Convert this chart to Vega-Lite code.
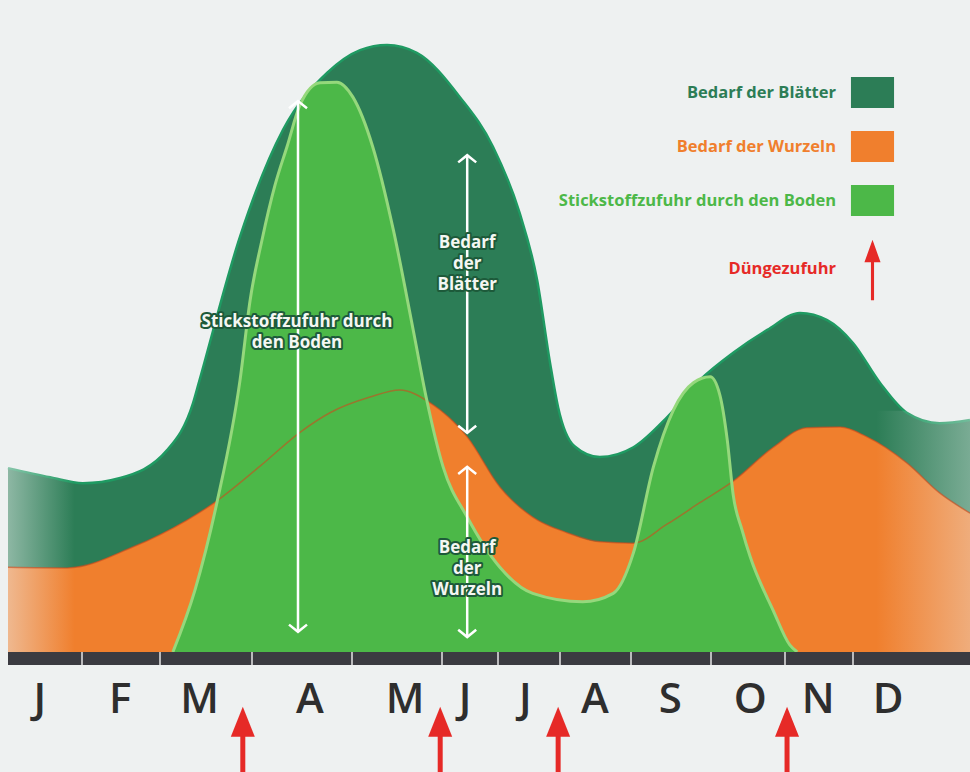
{
  "$schema": "https://vega.github.io/schema/vega-lite/v6.json",
  "width": 970,
  "height": 772,
  "autosize": {"type": "none"},
  "padding": 0,
  "background": "#eef1f1",
  "config": {"view": {"stroke": null}},
  "datasets": {
    "total": [
      {"s": "Bedarf der Blätter", "m": 0, "n": 28.2}, {"s": "Bedarf der Blätter", "m": 0.57, "n": 26.8},
      {"s": "Bedarf der Blätter", "m": 1.01, "n": 25.9}, {"s": "Bedarf der Blätter", "m": 1.49, "n": 26.7},
      {"s": "Bedarf der Blätter", "m": 2.08, "n": 31.0}, {"s": "Bedarf der Blätter", "m": 2.36, "n": 38.2},
      {"s": "Bedarf der Blätter", "m": 2.43, "n": 41.7}, {"s": "Bedarf der Blätter", "m": 2.87, "n": 63.7},
      {"s": "Bedarf der Blätter", "m": 3.31, "n": 80.1}, {"s": "Bedarf der Blätter", "m": 3.75, "n": 88.8},
      {"s": "Bedarf der Blätter", "m": 4.09, "n": 92.3}, {"s": "Bedarf der Blätter", "m": 4.39, "n": 93.1},
      {"s": "Bedarf der Blätter", "m": 4.72, "n": 91.9}, {"s": "Bedarf der Blätter", "m": 5.32, "n": 85.1},
      {"s": "Bedarf der Blätter", "m": 5.91, "n": 77.5}, {"s": "Bedarf der Blätter", "m": 6.35, "n": 67.3},
      {"s": "Bedarf der Blätter", "m": 6.63, "n": 57.1}, {"s": "Bedarf der Blätter", "m": 6.84, "n": 44.3},
      {"s": "Bedarf der Blätter", "m": 6.97, "n": 37.5}, {"s": "Bedarf der Blätter", "m": 7.2, "n": 31.6},
      {"s": "Bedarf der Blätter", "m": 7.56, "n": 29.9}, {"s": "Bedarf der Blätter", "m": 8.03, "n": 31.4},
      {"s": "Bedarf der Blätter", "m": 8.45, "n": 36.0}, {"s": "Bedarf der Blätter", "m": 8.86, "n": 41.7},
      {"s": "Bedarf der Blätter", "m": 9.30, "n": 45.9}, {"s": "Bedarf der Blätter", "m": 9.76, "n": 49.4},
      {"s": "Bedarf der Blätter", "m": 10.22, "n": 52.0}, {"s": "Bedarf der Blätter", "m": 10.62, "n": 50.9},
      {"s": "Bedarf der Blätter", "m": 11.0, "n": 47.4}, {"s": "Bedarf der Blätter", "m": 11.23, "n": 41.3},
      {"s": "Bedarf der Blätter", "m": 11.46, "n": 36.7}, {"s": "Bedarf der Blätter", "m": 11.74, "n": 35.1},
      {"s": "Bedarf der Blätter", "m": 12, "n": 35.6}
    ],
    "roots": [
      {"s": "Bedarf der Wurzeln", "m": 0, "n": 13.0}, {"s": "Bedarf der Wurzeln", "m": 0.80, "n": 12.9},
      {"s": "Bedarf der Wurzeln", "m": 1.65, "n": 16.1}, {"s": "Bedarf der Wurzeln", "m": 2.29, "n": 20.2},
      {"s": "Bedarf der Wurzeln", "m": 2.60, "n": 23.0}, {"s": "Bedarf der Wurzeln", "m": 3.08, "n": 28.5},
      {"s": "Bedarf der Wurzeln", "m": 3.48, "n": 33.7}, {"s": "Bedarf der Wurzeln", "m": 3.78, "n": 36.7},
      {"s": "Bedarf der Wurzeln", "m": 4.20, "n": 39.1}, {"s": "Bedarf der Wurzeln", "m": 4.53, "n": 40.2},
      {"s": "Bedarf der Wurzeln", "m": 4.87, "n": 38.2}, {"s": "Bedarf der Wurzeln", "m": 5.45, "n": 33.0},
      {"s": "Bedarf der Wurzeln", "m": 6.03, "n": 25.3}, {"s": "Bedarf der Wurzeln", "m": 6.56, "n": 20.7},
      {"s": "Bedarf der Wurzeln", "m": 7.10, "n": 18.3}, {"s": "Bedarf der Wurzeln", "m": 7.56, "n": 16.9},
      {"s": "Bedarf der Wurzeln", "m": 8.03, "n": 16.7}, {"s": "Bedarf der Wurzeln", "m": 8.45, "n": 19.6},
      {"s": "Bedarf der Wurzeln", "m": 8.86, "n": 22.9}, {"s": "Bedarf der Wurzeln", "m": 9.30, "n": 26.2},
      {"s": "Bedarf der Wurzeln", "m": 9.84, "n": 31.4}, {"s": "Bedarf der Wurzeln", "m": 10.32, "n": 34.4},
      {"s": "Bedarf der Wurzeln", "m": 10.81, "n": 34.5}, {"s": "Bedarf der Wurzeln", "m": 11.12, "n": 33.0},
      {"s": "Bedarf der Wurzeln", "m": 11.46, "n": 29.0}, {"s": "Bedarf der Wurzeln", "m": 11.74, "n": 24.4},
      {"s": "Bedarf der Wurzeln", "m": 12, "n": 21.3}
    ],
    "soil": [
      {"s": "Stickstoffzufuhr durch den Boden", "m": 2.14, "n": 0}, {"s": "Stickstoffzufuhr durch den Boden", "m": 2.38, "n": 9.5},
      {"s": "Stickstoffzufuhr durch den Boden", "m": 2.62, "n": 23.0}, {"s": "Stickstoffzufuhr durch den Boden", "m": 2.87, "n": 41.7},
      {"s": "Stickstoffzufuhr durch den Boden", "m": 2.98, "n": 54.0}, {"s": "Stickstoffzufuhr durch den Boden", "m": 3.10, "n": 63.2},
      {"s": "Stickstoffzufuhr durch den Boden", "m": 3.23, "n": 71.6}, {"s": "Stickstoffzufuhr durch den Boden", "m": 3.35, "n": 77.5},
      {"s": "Stickstoffzufuhr durch den Boden", "m": 3.48, "n": 83.9}, {"s": "Stickstoffzufuhr durch den Boden", "m": 3.68, "n": 87.3},
      {"s": "Stickstoffzufuhr durch den Boden", "m": 3.85, "n": 87.4}, {"s": "Stickstoffzufuhr durch den Boden", "m": 4.01, "n": 85.1},
      {"s": "Stickstoffzufuhr durch den Boden", "m": 4.23, "n": 77.5}, {"s": "Stickstoffzufuhr durch den Boden", "m": 4.46, "n": 64.7},
      {"s": "Stickstoffzufuhr durch den Boden", "m": 4.68, "n": 49.4}, {"s": "Stickstoffzufuhr durch den Boden", "m": 4.83, "n": 38.7},
      {"s": "Stickstoffzufuhr durch den Boden", "m": 5.02, "n": 28.4}, {"s": "Stickstoffzufuhr durch den Boden", "m": 5.45, "n": 20.7},
      {"s": "Stickstoffzufuhr durch den Boden", "m": 6.03, "n": 13.0}, {"s": "Stickstoffzufuhr durch den Boden", "m": 6.56, "n": 9.0},
      {"s": "Stickstoffzufuhr durch den Boden", "m": 7.32, "n": 7.7}, {"s": "Stickstoffzufuhr durch den Boden", "m": 7.75, "n": 9.0},
      {"s": "Stickstoffzufuhr durch den Boden", "m": 8.03, "n": 15.2}, {"s": "Stickstoffzufuhr durch den Boden", "m": 8.28, "n": 28.4},
      {"s": "Stickstoffzufuhr durch den Boden", "m": 8.53, "n": 37.1}, {"s": "Stickstoffzufuhr durch den Boden", "m": 8.78, "n": 41.3},
      {"s": "Stickstoffzufuhr durch den Boden", "m": 8.99, "n": 42.2}, {"s": "Stickstoffzufuhr durch den Boden", "m": 9.12, "n": 39.4},
      {"s": "Stickstoffzufuhr durch den Boden", "m": 9.22, "n": 32.5}, {"s": "Stickstoffzufuhr durch den Boden", "m": 9.30, "n": 24.1},
      {"s": "Stickstoffzufuhr durch den Boden", "m": 9.42, "n": 18.7}, {"s": "Stickstoffzufuhr durch den Boden", "m": 9.53, "n": 14.6},
      {"s": "Stickstoffzufuhr durch den Boden", "m": 9.84, "n": 6.4}, {"s": "Stickstoffzufuhr durch den Boden", "m": 10.07, "n": 1.1},
      {"s": "Stickstoffzufuhr durch den Boden", "m": 10.18, "n": 0}
    ],
    "fert": [
      {"s": "Düngezufuhr", "m": 2.90}, {"s": "Düngezufuhr", "m": 4.98},
      {"s": "Düngezufuhr", "m": 6.97}, {"s": "Düngezufuhr", "m": 10.03}
    ],
    "months": [
      {"t": "J", "m": 0.43}, {"t": "F", "m": 1.49}, {"t": "M", "m": 2.43}, {"t": "A", "m": 3.58},
      {"t": "M", "m": 4.59}, {"t": "J", "m": 5.41}, {"t": "J", "m": 6.44}, {"t": "A", "m": 7.49},
      {"t": "S", "m": 8.49}, {"t": "O", "m": 9.53}, {"t": "N", "m": 10.49}, {"t": "D", "m": 11.30}
    ],
    "ticks": [
      {"m": 1}, {"m": 2}, {"m": 3}, {"m": 4}, {"m": 5}, {"m": 6},
      {"m": 7}, {"m": 8}, {"m": 9}, {"m": 10}, {"m": 11}
    ],
    "spans": [
      {"m": 3.46, "top": 84.5, "bottom": 3.1},
      {"m": 5.45, "top": 76.2, "bottom": 33.6},
      {"m": 5.45, "top": 28.4, "bottom": 2.3}
    ],
    "notes": [
      {"m": 3.45, "n": 50.6, "t": "Stickstoffzufuhr durch\nden Boden"},
      {"m": 5.45, "n": 62.7, "t": "Bedarf\nder\nBlätter"},
      {"m": 5.45, "n": 16.0, "t": "Bedarf\nder\nWurzeln"}
    ]
  },
  "layer": [
    {
      "data": {"name": "total"},
      "mark": {"type": "area", "interpolate": "monotone"},
      "encoding": {
        "x": {"field": "m", "type": "quantitative", "axis": null,
              "scale": {"domain": [0, 1, 2, 3, 4, 5, 6, 7, 8, 9, 10, 11, 12],
                        "range": [8, 82, 160, 252, 352, 442, 498, 560, 631, 711, 785, 853, 970]}},
        "y": {"field": "n", "type": "quantitative", "axis": null,
              "scale": {"domain": [-18.4, 100], "nice": false, "zero": false}},
        "color": {
          "field": "s", "type": "nominal",
          "scale": {"domain": ["Bedarf der Blätter", "Bedarf der Wurzeln", "Stickstoffzufuhr durch den Boden", "Düngezufuhr"],
                    "range": ["#2c7d56", "#f07f2d", "#4cb848", "#e62a27"]},
          "legend": {
            "title": null, "orient": "none", "legendX": 857, "legendY": 77,
            "padding": 0, "symbolSize": 961, "rowPadding": 23,
            "labelFont": "Open Sans", "labelFontWeight": "bold", "labelFontSize": 16.5,
            "labelAlign": "right", "labelOffset": -52, "labelLimit": 400,
            "symbolStrokeWidth": 0,
            "encode": {
              "symbols": {"update": {
                "shape": {"signal": "datum.value === 'Düngezufuhr' ? 'M0,-1.85L0.52,-0.4L0.1,-0.4L0.1,2.05L-0.1,2.05L-0.1,-0.4L-0.52,-0.4Z' : 'M-1.39,-1H1.39V1H-1.39Z'"},
                "fill": {"scale": "color", "field": "value"},
                "stroke": {"value": "transparent"},
                "opacity": {"value": 1},
                "fillOpacity": {"value": 1}
              }},
              "labels": {"update": {"fill": {"scale": "color", "field": "value"}}}
            }
          }
        }
      }
    },
    {
      "data": {"name": "total"},
      "mark": {"type": "line", "interpolate": "monotone", "stroke": "#1f9a62", "strokeWidth": 2.5},
      "encoding": {"x": {"field": "m", "type": "quantitative"}, "y": {"field": "n", "type": "quantitative"}}
    },
    {
      "data": {"name": "roots"},
      "mark": {"type": "area", "interpolate": "monotone"},
      "encoding": {
        "x": {"field": "m", "type": "quantitative"},
        "y": {"field": "n", "type": "quantitative"},
        "color": {"field": "s", "type": "nominal"}
      }
    },
    {
      "data": {"values": [{"a": 0, "b": 0.9}]},
      "mark": {"type": "rect", "fill": {"gradient": "linear", "x1": 0, "x2": 1, "y1": 0, "y2": 0,
               "stops": [{"offset": 0, "color": "rgba(238,241,241,0.5)"}, {"offset": 1, "color": "rgba(238,241,241,0)"}]}},
      "encoding": {
        "x": {"field": "a", "type": "quantitative"}, "x2": {"field": "b"},
        "y": {"datum": 0}, "y2": {"datum": 30}
      }
    },
    {
      "data": {"values": [{"a": 11.2, "b": 12}]},
      "mark": {"type": "rect", "fill": {"gradient": "linear", "x1": 0, "x2": 1, "y1": 0, "y2": 0,
               "stops": [{"offset": 0, "color": "rgba(238,241,241,0)"}, {"offset": 1, "color": "rgba(238,241,241,0.4)"}]}},
      "encoding": {
        "x": {"field": "a", "type": "quantitative"}, "x2": {"field": "b"},
        "y": {"datum": 0}, "y2": {"datum": 37}
      }
    },
    {
      "data": {"name": "soil"},
      "mark": {"type": "area", "interpolate": "monotone"},
      "encoding": {
        "x": {"field": "m", "type": "quantitative"},
        "y": {"field": "n", "type": "quantitative"},
        "color": {"field": "s", "type": "nominal"}
      }
    },
    {
      "data": {"name": "roots"},
      "mark": {"type": "line", "interpolate": "monotone", "stroke": "#cf4a1c", "strokeWidth": 1.5, "opacity": 0.6},
      "encoding": {"x": {"field": "m", "type": "quantitative"}, "y": {"field": "n", "type": "quantitative"}}
    },
    {
      "data": {"name": "soil"},
      "mark": {"type": "line", "interpolate": "monotone", "stroke": "#95d87c", "strokeWidth": 3},
      "encoding": {"x": {"field": "m", "type": "quantitative"}, "y": {"field": "n", "type": "quantitative"}}
    },
    {
      "data": {"values": [{"a": 0, "b": 12}]},
      "mark": {"type": "rect", "color": "#3b3b41"},
      "encoding": {
        "x": {"field": "a", "type": "quantitative"}, "x2": {"field": "b"},
        "y": {"datum": 0}, "y2": {"datum": -2}
      }
    },
    {
      "data": {"name": "ticks"},
      "mark": {"type": "rule", "stroke": "#e6e6e6", "strokeWidth": 1.5},
      "encoding": {
        "x": {"field": "m", "type": "quantitative"},
        "y": {"datum": 0}, "y2": {"datum": -2}
      }
    },
    {
      "data": {"name": "months"},
      "mark": {"type": "text", "font": "Open Sans", "fontWeight": 600, "fontSize": 42, "fill": "#2e2e2e", "baseline": "alphabetic", "align": "center"},
      "encoding": {
        "x": {"field": "m", "type": "quantitative"},
        "y": {"datum": -9.35},
        "text": {"field": "t"}
      }
    },
    {
      "data": {"name": "fert"},
      "mark": {"type": "rule", "strokeWidth": 5},
      "encoding": {
        "x": {"field": "m", "type": "quantitative"},
        "y": {"datum": -18.4}, "y2": {"datum": -12.6},
        "color": {"field": "s", "type": "nominal"}
      }
    },
    {
      "data": {"name": "fert"},
      "mark": {"type": "point", "filled": true, "opacity": 1, "size": 576, "shape": "M0,-1.25L1,1.25L-1,1.25Z"},
      "encoding": {
        "x": {"field": "m", "type": "quantitative"},
        "y": {"datum": -10.7},
        "color": {"field": "s", "type": "nominal"}
      }
    },
    {
      "data": {"name": "spans"},
      "mark": {"type": "rule", "stroke": "#ffffff", "strokeWidth": 2.5},
      "encoding": {
        "x": {"field": "m", "type": "quantitative"},
        "y": {"field": "top", "type": "quantitative"}, "y2": {"field": "bottom"}
      }
    },
    {
      "data": {"name": "spans"},
      "mark": {"type": "point", "filled": false, "opacity": 1, "size": 324, "stroke": "#ffffff", "strokeWidth": 2.5, "shape": "M-1,0.8L0,0L1,0.8"},
      "encoding": {
        "x": {"field": "m", "type": "quantitative"},
        "y": {"field": "top", "type": "quantitative"}
      }
    },
    {
      "data": {"name": "spans"},
      "mark": {"type": "point", "filled": false, "opacity": 1, "size": 324, "stroke": "#ffffff", "strokeWidth": 2.5, "shape": "M-1,-0.8L0,0L1,-0.8"},
      "encoding": {
        "x": {"field": "m", "type": "quantitative"},
        "y": {"field": "bottom", "type": "quantitative"}
      }
    },
    {
      "data": {"name": "notes"},
      "mark": {"type": "text", "font": "Open Sans", "fontWeight": "bold", "fontSize": 17, "lineBreak": "\n", "lineHeight": 21,
               "fill": "#1d5a3a", "stroke": "#1d5a3a", "strokeWidth": 4, "strokeJoin": "round", "baseline": "middle", "align": "center"},
      "encoding": {
        "x": {"field": "m", "type": "quantitative"},
        "y": {"field": "n", "type": "quantitative"},
        "text": {"field": "t"}
      }
    },
    {
      "data": {"name": "notes"},
      "mark": {"type": "text", "font": "Open Sans", "fontWeight": "bold", "fontSize": 17, "lineBreak": "\n", "lineHeight": 21,
               "fill": "#f4f7f2", "baseline": "middle", "align": "center"},
      "encoding": {
        "x": {"field": "m", "type": "quantitative"},
        "y": {"field": "n", "type": "quantitative"},
        "text": {"field": "t"}
      }
    }
  ]
}
